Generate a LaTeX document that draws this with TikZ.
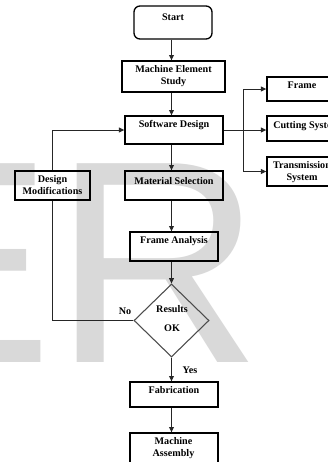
\documentclass[tikz,border=0pt]{standalone}
\usepackage{fontspec}
\setmainfont{Liberation Serif}
\newfontfamily\wmfont{Liberation Sans}
\usetikzlibrary{shapes.geometric,arrows.meta}
\begin{document}
\begin{tikzpicture}[x=0.75pt,y=-0.75pt,
  sz/.style 2 args={minimum width=#1*0.75pt,minimum height=#2*0.75pt},
  box/.style={draw=black,line width=1pt,inner sep=0pt},
  lbl/.style={font=\bfseries\fontsize{7.6pt}{9.4pt}\selectfont,align=center,inner sep=0pt,text=black},
  arrow/.style={draw=black!85,line width=0.75pt,-{Triangle[length=4pt,width=3.6pt]}},
  plain/.style={draw=black!85,line width=0.75pt}]
\useasboundingbox (0,0) rectangle (328,462);
\clip (0,0) rectangle (328,462);
\fill[white] (0,0) rectangle (328,462);
% watermark
\node[anchor=base west,inner sep=0pt,text=black!15,font=\wmfont\fontsize{216.75pt}{216.75pt}\selectfont] (wm) at (-139.5,362) {ER};
% boxes
\node[box,rounded corners=4.5pt,sz={78}{33}] (start) at (173,22.5) {};
\node[box,sz={103}{31}] (mes) at (173.5,76.5) {};
\node[box,sz={98}{28}] (sd) at (174,130) {};
\node[box,sz={75}{29}] (dm) at (52.5,185.5) {};
\node[box,sz={98}{29}] (ms) at (174,185.5) {};
\node[box,sz={88}{29}] (fa) at (174,246.5) {};
\node[draw=black!70,line width=0.8pt,diamond,inner sep=0pt,sz={75}{73}] (dec) at (171.5,320.5) {};
\node[box,sz={88}{25}] (fab) at (174,394.5) {};
\node[box,sz={88}{40}] (ma) at (174,453) {};
\node[box,sz={70}{24}] (frame) at (302,89) {};
\node[box,sz={70}{25}] (cut) at (302,128.5) {};
\node[box,sz={70}{29}] (trans) at (302,171.5) {};
% labels
\node[lbl,anchor=base] (start-t) at (173,20.5) {Start};
\node[lbl] (mes-t) at (173.5,76.3) {Machine Element\\Study};
\node[lbl,anchor=base] (sd-t) at (174,127.5) {Software Design};
\node[lbl] (dm-t) at (52.5,185.2) {Design\\Modifications};
\node[lbl,anchor=base] (ms-t) at (174,184.5) {Material Selection};
\node[lbl,anchor=base] (fa-t) at (174,243.5) {Frame Analysis};
\node[lbl,anchor=base] (dec-t1) at (172,312.5) {Results};
\node[lbl,anchor=base] (dec-t2) at (172,331.5) {OK};
\node[lbl,anchor=base] (fab-t) at (174,393.5) {Fabrication};
\node[lbl] (ma-t) at (173.5,448.3) {Machine\\Assembly};
\node[lbl,anchor=base] (frame-t) at (302,88.5) {Frame};
\node[lbl,anchor=base west] (cut-t) at (273,128.5) {Cutting System};
\node[lbl] (trans-t) at (302,172) {Transmission\\System};
\node[lbl,anchor=base] (no) at (125,314.5) {No};
\node[lbl,anchor=base] (yes) at (190,373.5) {Yes};
% connectors
\coordinate (colx) at (171.5,0);
\draw[arrow] (start.south -| colx) -- (mes.north -| colx);
\draw[arrow] (mes.south -| colx) -- (sd.north -| colx);
\draw[arrow] (sd.south -| colx) -- (ms.north -| colx);
\draw[arrow] (ms.south -| colx) -- (fa.north -| colx);
\draw[arrow] (fa.south -| colx) -- (dec.north);
\draw[arrow] (dec.south) -- (fab.north -| colx);
\draw[arrow] (fab.south -| colx) -- (ma.north -| colx);
\draw[plain] (dec.west) -| (dm.south);
\draw[arrow] (dm.north) |- (sd.west);
\coordinate (br) at (244,130);
\draw[arrow] (sd.east) -- (sd.east -| cut.west);
\draw[arrow] (br) |- (frame.west);
\draw[arrow] (br) |- (trans.west);
\end{tikzpicture}
\end{document}
